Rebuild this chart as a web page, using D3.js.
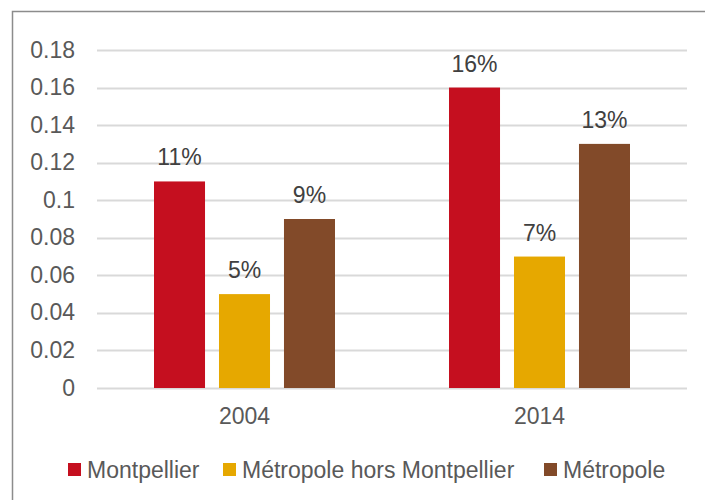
<!DOCTYPE html>
<html>
<head>
<meta charset="utf-8">
<script src="https://cdn.jsdelivr.net/npm/d3@7"></script>
<style>
  body { margin: 0; background: #fff; }
  svg { display: block; font-family: "Liberation Sans", Arial, sans-serif; }
</style>
</head>
<body>
<svg id="chart" width="705" height="500"></svg>
<script>
// Chart data
const years = ['2004', '2014'];
const seriesNames = ['Montpellier', 'Métropole hors Montpellier', 'Métropole'];
const seriesColors = ['#C50F1F', '#E6A800', '#824A29'];
const montpellier = [0.11, 0.16];
const horsMontpellier = [0.05, 0.07];
const metropole = [0.09, 0.13];
const yTicks = [0, 0.02, 0.04, 0.06, 0.08, 0.1, 0.12, 0.14, 0.16, 0.18];

const seriesValues = [montpellier, horsMontpellier, metropole];

const svg = d3.select('#chart');
const textColor = '#595959';
const fontSize = 23;

// Outer frame (runs off the right and bottom edge)
svg.append('rect')
  .attr('x', 12.5).attr('y', 11.5)
  .attr('width', 720).attr('height', 520)
  .attr('fill', 'none')
  .attr('stroke', '#8c8c8c')
  .attr('stroke-width', 1.5);

const plot = { left: 97, right: 687, top: 50, bottom: 388 };

const x0 = d3.scaleBand()
  .domain(years)
  .range([plot.left, plot.right]);

const x1 = d3.scaleBand()
  .domain(seriesNames)
  .range([0, 181])
  .paddingInner(0.215);

const y = d3.scaleLinear()
  .domain([0, 0.18])
  .range([plot.bottom, plot.top]);

// Gridlines
svg.append('g')
  .selectAll('line')
  .data(yTicks)
  .join('line')
  .attr('x1', plot.left).attr('x2', plot.right)
  .attr('y1', d => Math.round(y(d)) + 0.5)
  .attr('y2', d => Math.round(y(d)) + 0.5)
  .attr('stroke', '#d9d9d9')
  .attr('stroke-width', 2);

// Y labels
svg.append('g')
  .selectAll('text')
  .data(yTicks)
  .join('text')
  .attr('x', 75)
  .attr('y', d => y(d) + 7.5)
  .attr('text-anchor', 'end')
  .attr('font-size', fontSize)
  .attr('fill', textColor)
  .text(d => String(d));

// Bars
const groups = svg.append('g')
  .selectAll('g')
  .data(years)
  .join('g')
  .attr('transform', d => `translate(${x0(d) + (x0.bandwidth() - 181) / 2},0)`);

groups.selectAll('rect')
  .data((d, i) => seriesNames.map((s, j) => ({ s, j, v: seriesValues[j][i] })))
  .join('rect')
  .attr('x', d => x1(d.s))
  .attr('width', x1.bandwidth())
  .attr('y', d => y(d.v))
  .attr('height', d => y(0) - y(d.v))
  .attr('fill', d => seriesColors[d.j]);

// Value labels
groups.selectAll('text')
  .data((d, i) => seriesNames.map((s, j) => ({ s, j, v: seriesValues[j][i] })))
  .join('text')
  .attr('x', d => x1(d.s) + x1.bandwidth() / 2)
  .attr('y', d => y(d.v) - 16)
  .attr('text-anchor', 'middle')
  .attr('font-size', fontSize)
  .attr('fill', '#404040')
  .text(d => Math.round(d.v * 100) + '%');

// X labels
svg.append('g')
  .selectAll('text')
  .data(years)
  .join('text')
  .attr('x', d => x0(d) + x0.bandwidth() / 2)
  .attr('y', 424)
  .attr('text-anchor', 'middle')
  .attr('font-size', fontSize)
  .attr('fill', textColor)
  .text(d => d);

// Legend
const legendX = [68, 223, 544];
const legend = svg.append('g')
  .selectAll('g')
  .data(seriesNames)
  .join('g')
  .attr('transform', (d, i) => `translate(${legendX[i]},463)`);

legend.append('rect')
  .attr('width', 13).attr('height', 13)
  .attr('fill', (d, i) => seriesColors[i]);

legend.append('text')
  .attr('x', 19)
  .attr('y', 15)
  .attr('font-size', fontSize)
  .attr('fill', textColor)
  .text(d => d);
</script>
</body>
</html>
